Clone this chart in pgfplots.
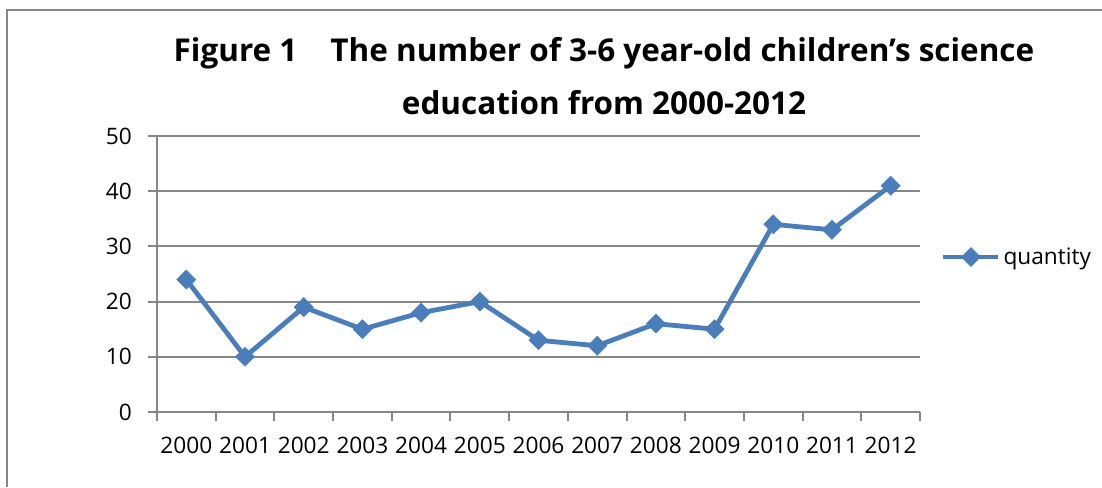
\documentclass[border=0pt]{standalone}
\usepackage{fontspec}
\setmainfont{Open Sans}
\usepackage{pgfplots}
\pgfplotsset{compat=1.18}
\definecolor{xlblue}{HTML}{4A7EBB}
\definecolor{xlgray}{HTML}{868686}
\begin{document}
\begin{tikzpicture}[x=0.75pt,y=0.75pt]
\useasboundingbox (0,0) rectangle (1102,487);
\draw[xlgray,line width=1.5pt] (7,0) -- (7,477) -- (1102,477);
\node[anchor=base,font=\bfseries\fontsize{23.6}{28}\selectfont] at (604,426)
  {Figure 1\hspace{1.05em}The number of 3-6 year-old children’s science};
\node[anchor=base,font=\bfseries\fontsize{23.6}{28}\selectfont] at (604,373)
  {education from 2000-2012};
\begin{axis}[
    at={(117.75pt,56.25pt)}, anchor=south west,
    scale only axis, width=572.25pt, height=207pt,
    xmin=-0.5, xmax=12.5, ymin=0, ymax=50,
    ytick={0,10,...,50},
    xtick={-0.5,0.5,...,12.5}, xticklabels={},
    extra x ticks={0,1,...,12},
    extra x tick labels={2000,2001,2002,2003,2004,2005,2006,2007,2008,2009,2010,2011,2012},
    extra x tick style={major tick length=0pt, grid=none},
    axis x line*=bottom, axis y line*=left,
    axis line style={xlgray, line width=1.5pt},
    tick style={xlgray, line width=1.5pt},
    tick align=outside, major tick length=6.4pt,
    ymajorgrids, grid style={xlgray, line width=1.5pt},
    ticklabel style={font=\fontsize{17}{20}\selectfont},
    xticklabel style={yshift=-15pt},
    yticklabel style={xshift=-9pt},
    /pgf/number format/assume math mode=true,
    legend style={at={(1.022,0.5616)}, anchor=west, draw=none, fill=none,
        font=\fontsize{17}{20}\selectfont},
    legend image code/.code={
        \draw[mark repeat=2,mark phase=2,#1] plot coordinates {(0pt,0pt) (20.6pt,0pt) (41.25pt,0pt)};
    },
]
\addplot[color=xlblue, line width=3.6pt, mark=square*, mark size=5pt,
    mark options={rotate=45, solid, fill=xlblue, draw=xlblue, line width=0.5pt}]
    coordinates {
    (0,24)(1,10)(2,19)(3,15)(4,18)(5,20)(6,13)(7,12)(8,16)(9,15)(10,34)(11,33)(12,41)
    };
\addlegendentry{quantity}
\end{axis}
\end{tikzpicture}
\end{document}
